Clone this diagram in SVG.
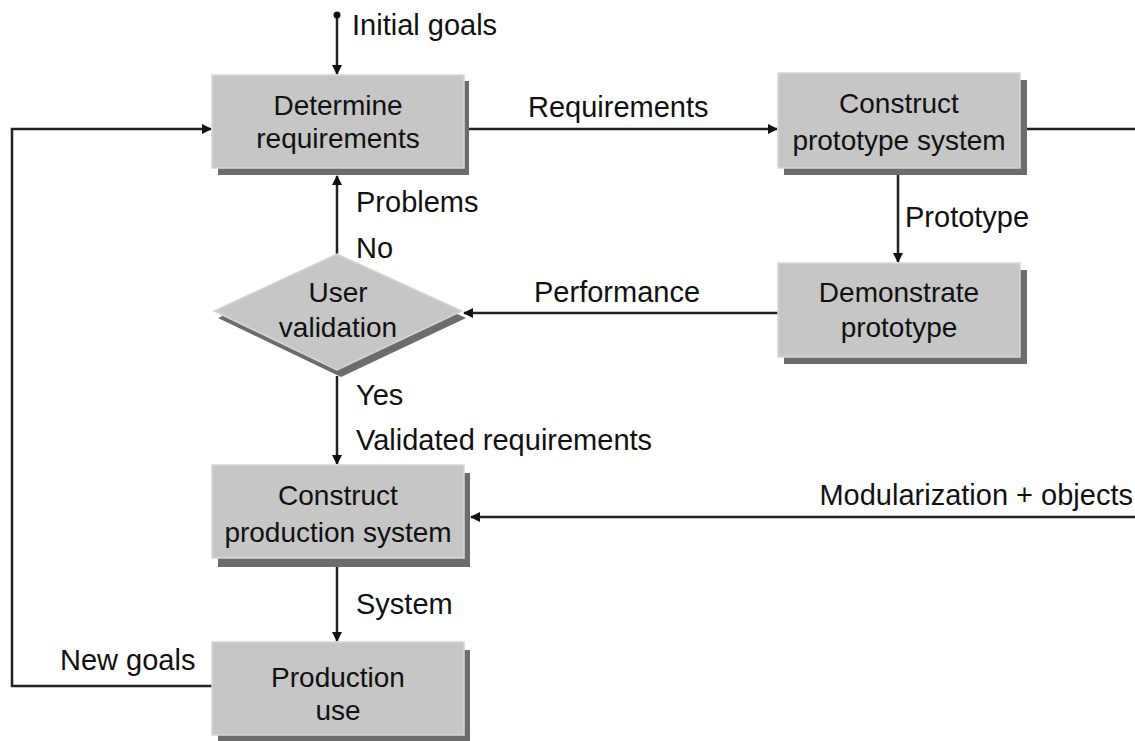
<svg xmlns="http://www.w3.org/2000/svg" width="1135" height="741" viewBox="0 0 1135 741">
<style>
.box{fill:#c6c6c6;stroke:#d6d6d6;stroke-width:1.5}
.shadow{fill:#6c6c6c}
.t{font-family:"Liberation Sans",Arial,sans-serif;font-size:28px;fill:#111;text-anchor:middle}
.l{font-family:"Liberation Sans",Arial,sans-serif;font-size:29px;fill:#111}
.c{fill:none;stroke:#222;stroke-width:2.5}
</style>
<defs>
<marker id="arr" viewBox="0 0 10 10" refX="9" refY="5" markerWidth="4" markerHeight="4" orient="auto" markerUnits="strokeWidth">
<path d="M0,0 L10,5 L0,10 Z" fill="#111"/>
</marker>
</defs>
<rect width="1135" height="741" fill="#ffffff"/>

<g id="connectors">
<path class="c" d="M337,14 V74" marker-end="url(#arr)"/>
<circle cx="337" cy="15" r="3.5" fill="#111"/>
<path class="c" d="M468,129 H777" marker-end="url(#arr)"/>
<path class="c" d="M1027,129 H1140 V517 H471" marker-end="url(#arr)"/>
<path class="c" d="M898,175 V262" marker-end="url(#arr)"/>
<path class="c" d="M778,313 H464" marker-end="url(#arr)"/>
<path class="c" d="M337,254 V176" marker-end="url(#arr)"/>
<path class="c" d="M337,376 V464" marker-end="url(#arr)"/>
<path class="c" d="M337,567 V641" marker-end="url(#arr)"/>
<path class="c" d="M212,686 H12 V129 H211" marker-end="url(#arr)"/>
</g>

<g id="labels">
<text class="l" x="352" y="35">Initial goals</text>
<text class="l" x="528" y="117">Requirements</text>
<text class="l" x="905" y="227">Prototype</text>
<text class="l" x="534" y="302">Performance</text>
<text class="l" x="356" y="212">Problems</text>
<text class="l" x="356" y="258">No</text>
<text class="l" x="356" y="405">Yes</text>
<text class="l" x="356" y="450">Validated requirements</text>
<text class="l" x="1133" y="505" text-anchor="end">Modularization + objects</text>
<text class="l" x="356" y="614">System</text>
<text class="l" x="60" y="670">New goals</text>
</g>

<g id="determine-requirements">
<rect class="shadow" x="218" y="81" width="251" height="94"/>
<rect class="box" x="212" y="75" width="252" height="93"/>
<text class="t" x="338" y="115">Determine</text>
<text class="t" x="338" y="148">requirements</text>
</g>

<g id="construct-prototype">
<rect class="shadow" x="784" y="80" width="243" height="95"/>
<rect class="box" x="778" y="73" width="242" height="95"/>
<text class="t" x="899" y="113">Construct</text>
<text class="t" x="899" y="150">prototype system</text>
</g>

<g id="demonstrate-prototype">
<rect class="shadow" x="784" y="270" width="243" height="94"/>
<rect class="box" x="778" y="263" width="242" height="94"/>
<text class="t" x="899" y="302">Demonstrate</text>
<text class="t" x="899" y="337">prototype</text>
</g>

<g id="user-validation">
<polygon class="shadow" points="341,261 466,318 341,377 218,318"/>
<polygon class="box" points="337,254 462,311 337,370 214,311"/>
<text class="t" x="338" y="302">User</text>
<text class="t" x="338" y="337">validation</text>
</g>

<g id="construct-production">
<rect class="shadow" x="218" y="473" width="252" height="94"/>
<rect class="box" x="212" y="465" width="252" height="93"/>
<text class="t" x="338" y="505">Construct</text>
<text class="t" x="338" y="542">production system</text>
</g>

<g id="production-use">
<rect class="shadow" x="218" y="650" width="252" height="94"/>
<rect class="box" x="212" y="642" width="252" height="93"/>
<text class="t" x="338" y="687">Production</text>
<text class="t" x="338" y="720">use</text>
</g>
</svg>
